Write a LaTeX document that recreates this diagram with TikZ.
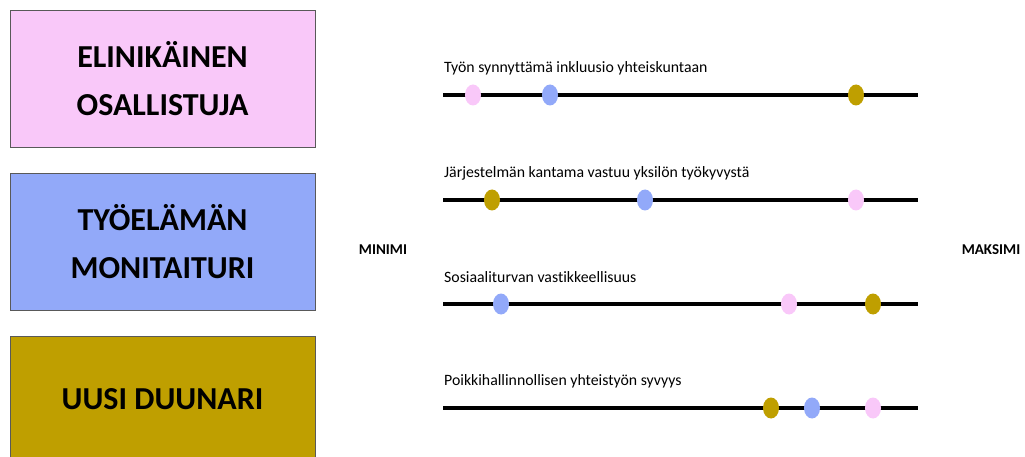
\documentclass[tikz,border=0pt]{standalone}
\usepackage{fontspec}
\setmainfont{Carlito}[Ligatures=NoCommon]
\usetikzlibrary{calc,shapes.geometric}
\definecolor{pinkish}{RGB}{249,200,249}
\definecolor{bluish}{RGB}{146,169,249}
\definecolor{goldish}{RGB}{191,159,0}

\begin{document}
\begin{tikzpicture}[x=1pt,y=-1pt,
  role/.style={draw=gray!70!black, line width=0.7pt, minimum width=305pt,
    align=center, font=\fontsize{32}{48}\selectfont\bfseries},
  dot/.style={ellipse, draw=none, minimum width=16pt, minimum height=21pt, inner sep=0pt},
  axis/.style={line width=3.5pt},
  scalelabel/.style={font=\fontsize{15.8}{18}\selectfont},
  endlabel/.style={font=\fontsize{15}{18}\selectfont\bfseries}]
  \useasboundingbox (0,0) rectangle (1025,457);

  %% The three role boxes
  \node[role, fill=pinkish, minimum height=137pt] (ROLE1) at (162.5,78.5)
    {ELINIKÄINEN\\OSALLISTUJA};
  \node[role, fill=bluish, minimum height=137pt] (ROLE2) at (162.5,241.5)
    {TYÖELÄMÄN\\MONITAITURI};
  \node[role, fill=goldish, minimum height=126pt] (ROLE3) at (162.5,399)
    {UUSI DUUNARI};

  %% Scale ends
  \node[endlabel] (MIN) at (383,250) {MINIMI};
  \node[endlabel] (MAX) at (991,250) {MAKSIMI};

  %% Building the scales
  \foreach \r/\y/\t in {1/95/{Työn synnyttämä inkluusio yhteiskuntaan},
                        2/200/{Järjestelmän kantama vastuu yksilön työkyvystä},
                        3/304/{Sosiaaliturvan vastikkeellisuus},
                        4/408/{Poikkihallinnollisen yhteistyön syvyys}}
  {
    \coordinate (L\r) at (443,\y);
    \coordinate (R\r) at (918,\y);
    \node[scalelabel, anchor=west, inner sep=1pt] (T\r) at ($(L\r)+(0,-27)$) {\t};
    \draw[axis] (L\r) -- (R\r);
  }

  %% Placing the dots on the scales
  \foreach \r/\x/\c in {1/473/pinkish, 1/550/bluish, 1/856/goldish,
                        2/492/goldish, 2/645/bluish, 2/856/pinkish,
                        3/501/bluish, 3/789/pinkish, 3/873/goldish,
                        4/771/goldish, 4/812/bluish, 4/873/pinkish}
  {
    \node[dot, fill=\c] (D\r-\c) at (\x,0 |- L\r) {};
  }
\end{tikzpicture}
\end{document}
